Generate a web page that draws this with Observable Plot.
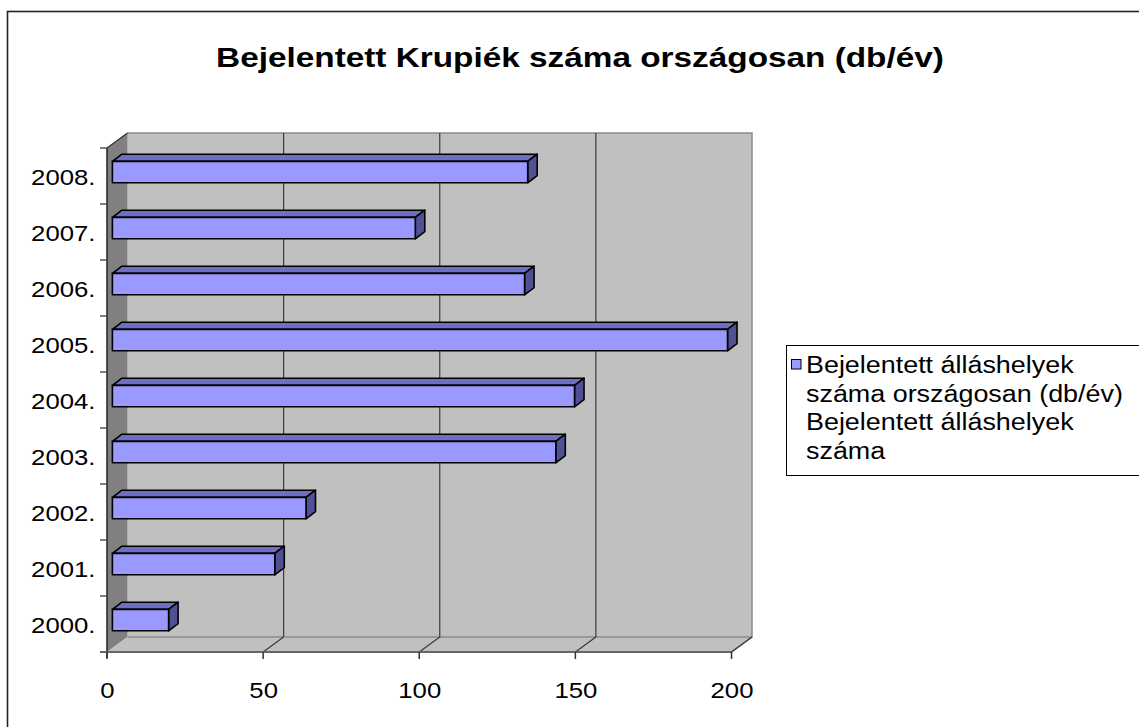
<!DOCTYPE html>
<html>
<head>
<meta charset="utf-8">
<script src="https://cdn.jsdelivr.net/npm/d3@7"></script>
<script src="https://cdn.jsdelivr.net/npm/@observablehq/plot@0.6"></script>
<style>
  html, body { margin: 0; padding: 0; background: #fff; }
  #chart { width: 1139px; height: 727px; overflow: hidden; }
</style>
</head>
<body>
<div id="chart"></div>
<script>
// ---- data ----
const title = "Bejelentett Krupiék száma országosan (db/év)";
const years = ["2000.", "2001.", "2002.", "2003.", "2004.", "2005.", "2006.", "2007.", "2008."];
const values = [18, 52, 62, 142, 148, 197, 132, 97, 133];
const xTicks = [0, 50, 100, 150, 200];
const legendLines = ["Bejelentett álláshelyek", "száma országosan (db/év)", "Bejelentett álláshelyek", "száma"];

const data = years.map((year, i) => ({year, value: values[i]}));

// ---- styling constants ----
const ARIAL = "'Liberation Sans', Arial, sans-serif";
const STRETCH = 1.17;           // the original's text is horizontally stretched
const DEPTH = [20.5, -15];      // 3D depth of the chart box
const BAR_OFF = [5.4, -3.9];    // offset of bar front face
const BAR_DEPTH = [9.5, -7.2];  // bar thickness in depth
const BAR_FRAC = 0.382;         // bar height as fraction of band

function walls(index, scales, values, dims) {
  const x = scales.x, y = scales.y;
  const x0 = x(0), x1 = x(xTicks[xTicks.length - 1]);
  const yt = dims.marginTop, yb = dims.height - dims.marginBottom;
  const [dx, dy] = DEPTH;
  const g = d3.create("svg:g");
  g.append("rect").attr("x", x0 + dx).attr("y", yt + dy).attr("width", x1 - x0).attr("height", yb - yt)
    .attr("fill", "#c0c0c0");
  g.append("path").attr("d", `M${x0},${yt}L${x0 + dx},${yt + dy}L${x0 + dx},${yb + dy}L${x0},${yb}Z`)
    .attr("fill", "#808080");
  g.append("path").attr("d", `M${x0},${yb}L${x1},${yb}L${x1 + dx},${yb + dy}L${x0 + dx},${yb + dy}Z`)
    .attr("fill", "#c0c0c0");
  g.append("path").attr("d", `M${x0 + dx},${yt + dy}H${x1 + dx}V${yb + dy}H${x0 + dx}`)
    .attr("fill", "none").attr("stroke", "#8a8a8a").attr("stroke-width", 1.5);
  g.append("path").attr("d", `M${x1},${yb}L${x1 + dx},${yb + dy}`)
    .attr("fill", "none").attr("stroke", "#808080").attr("stroke-width", 1.5);
  for (const v of xTicks.slice(1)) {
    const xv = x(v);
    if (v !== xTicks[xTicks.length - 1]) {
      g.append("line").attr("x1", xv + dx).attr("x2", xv + dx).attr("y1", yt + dy).attr("y2", yb + dy)
        .attr("stroke", "#3a3a3a").attr("stroke-width", 1.2);
    }
    g.append("line").attr("x1", xv).attr("x2", xv + dx).attr("y1", yb).attr("y2", yb + dy)
      .attr("stroke", "#3a3a3a").attr("stroke-width", 1.2);
  }
  g.append("line").attr("x1", x0).attr("y1", yt).attr("x2", x0 + dx).attr("y2", yt + dy)
    .attr("stroke", "#333").attr("stroke-width", 1.3);
  return g.node();
}

function bars3d(index, scales, values, dims) {
  const x = scales.x, y = scales.y;
  const bw = y.bandwidth();
  const g = d3.create("svg:g").attr("stroke", "#000").attr("stroke-width", 1.6).attr("stroke-linejoin", "round");
  for (const d of data) {
    const xs = x(0) + BAR_OFF[0], xe = x(d.value) + BAR_OFF[0];
    const yc = y(d.year) + bw / 2 + BAR_OFF[1];
    const h = bw * BAR_FRAC;
    const top = yc - h / 2, bot = yc + h / 2;
    const [bx, by] = BAR_DEPTH;
    g.append("path").attr("fill", "#6f6fc0")
      .attr("d", `M${xs},${top}L${xe},${top}L${xe + bx},${top + by}L${xs + bx},${top + by}Z`);
    g.append("path").attr("fill", "#505094")
      .attr("d", `M${xe},${top}L${xe + bx},${top + by}L${xe + bx},${bot + by}L${xe},${bot}Z`);
    g.append("rect").attr("fill", "#9999ff").attr("x", xs).attr("y", top).attr("width", xe - xs).attr("height", h);
  }
  return g.node();
}

function axes(index, scales, values, dims) {
  const x = scales.x, y = scales.y;
  const x0 = x(0), x1 = x(xTicks[xTicks.length - 1]);
  const yt = dims.marginTop, yb = dims.height - dims.marginBottom;
  const bw = y.bandwidth();
  const g = d3.create("svg:g");
  g.append("line").attr("x1", x0).attr("x2", x0).attr("y1", yt).attr("y2", yb + 6)
    .attr("stroke", "#222").attr("stroke-width", 1.5);
  for (let i = 0; i <= years.length; i++) {
    const yy = yt + i * bw;
    g.append("line").attr("x1", x0 - 7).attr("x2", x0).attr("y1", yy).attr("y2", yy)
      .attr("stroke", "#555").attr("stroke-width", 1.5);
  }
  g.append("line").attr("x1", x0 - 7).attr("x2", x1).attr("y1", yb).attr("y2", yb)
    .attr("stroke", "#666").attr("stroke-width", 2);
  for (const v of xTicks) {
    g.append("line").attr("x1", x(v)).attr("x2", x(v)).attr("y1", yb).attr("y2", yb + 7)
      .attr("stroke", "#333").attr("stroke-width", 1.5);
  }
  return g.node();
}

function frameTitleLegend(index, scales, values, dims) {
  const g = d3.create("svg:g");
  g.append("rect").attr("x", 7.5).attr("y", 11.5).attr("width", 1150).attr("height", 730)
    .attr("fill", "none").attr("stroke", "#222").attr("stroke-width", 1.6);
  g.append("text")
    .attr("transform", `translate(580,57) scale(${STRETCH},1)`)
    .attr("dy", "0.35em").attr("text-anchor", "middle")
    .attr("font-family", ARIAL).attr("font-weight", "bold").attr("font-size", 28.5)
    .attr("fill", "#000").text(title);
  const lx = 786, ly = 345;
  g.append("rect").attr("x", lx + 0.5).attr("y", ly + 0.5).attr("width", 400).attr("height", 130)
    .attr("fill", "#fff").attr("stroke", "#000").attr("stroke-width", 1);
  g.append("rect").attr("x", 791.5).attr("y", 359.5).attr("width", 9.5).attr("height", 9.5)
    .attr("fill", "#9999ff").attr("stroke", "#000").attr("stroke-width", 1);
  legendLines.forEach((t, i) => {
    g.append("text")
      .attr("transform", `translate(806,${365 + i * 28.6}) scale(${STRETCH},1)`)
      .attr("dy", "0.35em").attr("text-anchor", "start")
      .attr("font-family", ARIAL).attr("font-size", 23).attr("fill", "#000").text(t);
  });
  return g.node();
}

const chart = Plot.plot({
  width: 1139,
  height: 727,
  marginLeft: 107,
  marginRight: 1139 - 731.5,
  marginTop: 148,
  marginBottom: 727 - 652,
  style: {background: "transparent", fontFamily: ARIAL},
  x: {domain: [0, 200], axis: null},
  y: {type: "band", domain: years.slice().reverse(), axis: null, padding: 0},
  marks: [
    frameTitleLegend,
    walls,
    bars3d,
    axes,
    Plot.text(data, {y: "year", text: "year", frameAnchor: "left", dx: -12, dy: 1,
      textAnchor: "end", fontSize: 22, fill: "#000"}),
    Plot.text(xTicks, {x: d => d, text: d => String(d), frameAnchor: "bottom", lineAnchor: "middle", dy: 38,
      fontSize: 22, fill: "#000"})
  ]
});

// widen the axis label glyphs like the original (horizontally stretched text)
d3.select(chart).selectAll("g[aria-label='text'] text").each(function() {
  const t = this.getAttribute("transform");
  if (t) {
    this.setAttribute("transform", `${t} scale(${STRETCH},1)`);
  } else {
    const x = +this.getAttribute("x") || 0, y = +this.getAttribute("y") || 0;
    this.removeAttribute("x"); this.removeAttribute("y");
    this.setAttribute("transform", `translate(${x},${y}) scale(${STRETCH},1)`);
  }
});

document.getElementById("chart").appendChild(chart);
</script>
</body>
</html>
